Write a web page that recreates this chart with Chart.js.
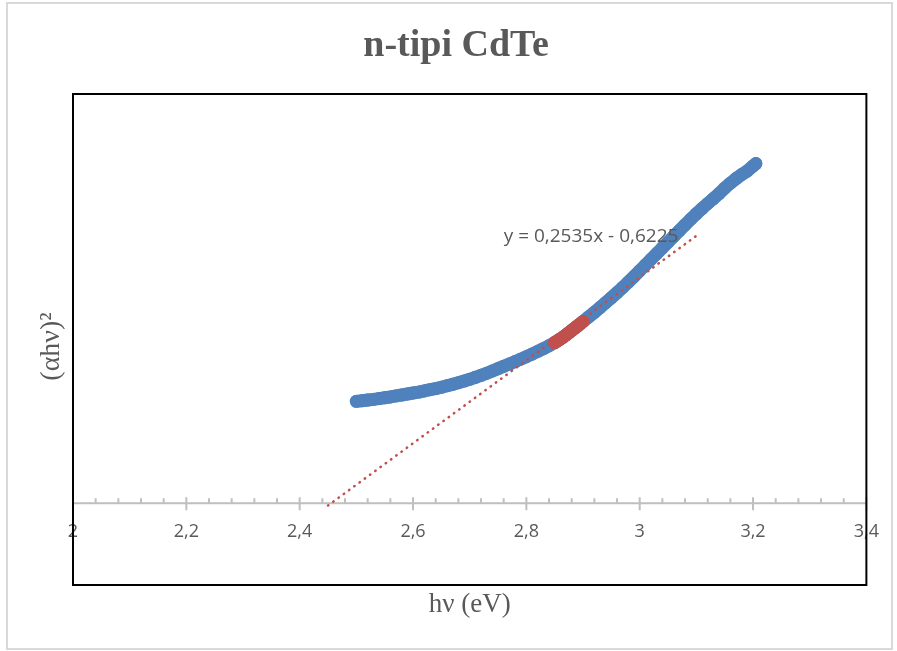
<!DOCTYPE html>
<html>
<head>
<meta charset="utf-8">
<script src="https://cdn.jsdelivr.net/npm/chart.js@4/dist/chart.umd.min.js"></script>
<style>
  body { margin: 0; background: #fff; }
  canvas { display: block; }
</style>
</head>
<body>
<canvas id="chart" width="897" height="651"></canvas>
<script>
// hv (eV) and (alpha h v)^2
const hv = [2.50, 2.51, 2.52, 2.53, 2.54, 2.55, 2.56, 2.57, 2.58, 2.59,
  2.60, 2.61, 2.62, 2.63, 2.64, 2.65, 2.66, 2.67, 2.68, 2.69,
  2.70, 2.71, 2.72, 2.73, 2.74, 2.75, 2.76, 2.77, 2.78, 2.79,
  2.80, 2.81, 2.82, 2.83, 2.84, 2.85, 2.86, 2.87, 2.88, 2.89,
  2.90, 2.91, 2.92, 2.93, 2.94, 2.95, 2.96, 2.97, 2.98, 2.99,
  3.00, 3.01, 3.02, 3.03, 3.04, 3.05, 3.06, 3.07, 3.08, 3.09,
  3.10, 3.11, 3.12, 3.13, 3.14, 3.15, 3.16, 3.17, 3.18, 3.19,
  3.20, 3.205];
const ahv2 = [0.0622, 0.0626, 0.0630, 0.0634, 0.0639, 0.0644, 0.0649, 0.0655, 0.0661, 0.0667,
  0.0673, 0.0679, 0.0686, 0.0693, 0.0700, 0.0708, 0.0717, 0.0726, 0.0736, 0.0746,
  0.0757, 0.0769, 0.0781, 0.0794, 0.0808, 0.0822, 0.0836, 0.0850, 0.0865, 0.0880,
  0.0895, 0.0911, 0.0927, 0.0944, 0.0962, 0.0981, 0.1003, 0.1028, 0.1055, 0.1082,
  0.1110, 0.1138, 0.1166, 0.1195, 0.1225, 0.1255, 0.1286, 0.1318, 0.1351, 0.1385,
  0.1420, 0.1455, 0.1490, 0.1525, 0.1560, 0.1595, 0.1630, 0.1665, 0.1700, 0.1735,
  0.1768, 0.1800, 0.1831, 0.1861, 0.1891, 0.1925, 0.1955, 0.1983, 0.2008, 0.2030,
  0.2060, 0.2075];

// fitted section (red)
const fitHv = [2.85, 2.855, 2.86, 2.865, 2.87, 2.875, 2.88, 2.885, 2.89, 2.895, 2.90];
const fitAhv2 = [0.0981, 0.0992, 0.1003, 0.1015, 0.1028, 0.1041, 0.1055, 0.1068, 0.1082, 0.1096, 0.1110];

// trendline y = 0,2535x - 0,6225, drawn from 2,45 to 3,1
const slope = 0.2535;
const intercept = -0.6225;
const trendFrom = 2.45;
const trendTo = 3.1;

const xTicksMajor = [2, 2.2, 2.4, 2.6, 2.8, 3, 3.2, 3.4];

const gray = '#595959';
const blue = '#4f81bd';
const red = '#c0504d';
const serif = '"Liberation Serif", "Times New Roman", serif';

const toPoints = (xs, ys) => xs.map((x, i) => ({ x: x, y: ys[i] }));
const trend = [trendFrom, trendTo].map(x => ({ x: x, y: slope * x + intercept }));
const comma = v => String(Math.round(v * 10) / 10).replace('.', ',');

const decor = {
  id: 'decor',
  beforeDraw(chart) {
    const ctx = chart.ctx;
    ctx.save();
    ctx.fillStyle = '#fff';
    ctx.fillRect(0, 0, chart.width, chart.height);
    ctx.strokeStyle = '#d9d9d9';
    ctx.lineWidth = 2;
    ctx.strokeRect(7, 3, 885, 646);
    ctx.restore();
  },
  beforeDatasetsDraw(chart) {
    const { ctx, chartArea, scales } = chart;
    const y0 = scales.y.getPixelForValue(0);
    ctx.save();
    ctx.strokeStyle = '#bfbfbf';
    ctx.lineWidth = 2;
    ctx.beginPath();
    ctx.moveTo(chartArea.left, y0);
    ctx.lineTo(chartArea.right, y0);
    for (let i = 0; i < xTicksMajor.length; i++) {
      const px = scales.x.getPixelForValue(xTicksMajor[i]);
      ctx.moveTo(px, y0 - 6);
      ctx.lineTo(px, y0 + 7);
      if (i < xTicksMajor.length - 1) {
        const step = (xTicksMajor[i + 1] - xTicksMajor[i]) / 5;
        for (let k = 1; k < 5; k++) {
          const mx = scales.x.getPixelForValue(xTicksMajor[i] + k * step);
          ctx.moveTo(mx, y0 - 5);
          ctx.lineTo(mx, y0);
        }
      }
    }
    ctx.stroke();
    ctx.restore();
  },
  afterDatasetsDraw(chart) {
    const { ctx, scales } = chart;
    const ex = scales.x.getPixelForValue(trendTo);
    const ey = scales.y.getPixelForValue(slope * trendTo + intercept);
    ctx.save();
    ctx.font = '19px "Open Sans"';
    ctx.fillStyle = gray;
    ctx.textAlign = 'right';
    ctx.textBaseline = 'middle';
    ctx.fillText('y = 0,2535x - 0,6225', ex - 18, ey + 1);
    ctx.restore();
  },
  afterDraw(chart) {
    const { ctx, chartArea } = chart;
    ctx.save();
    ctx.strokeStyle = '#000';
    ctx.lineWidth = 2;
    ctx.strokeRect(chartArea.left, chartArea.top, chartArea.right - chartArea.left, chartArea.bottom - chartArea.top);
    ctx.restore();
  }
};

new Chart(document.getElementById('chart'), {
  type: 'scatter',
  data: {
    datasets: [
      { label: 'trend', type: 'line', data: trend, borderColor: red, borderWidth: 2.5,
        borderDash: [0.5, 6], borderCapStyle: 'round', pointRadius: 0, fill: false, order: 0 },
      { label: 'fit', data: toPoints(fitHv, fitAhv2), backgroundColor: red, borderColor: red,
        showLine: true, borderWidth: 13, borderCapStyle: 'round', borderJoinStyle: 'round',
        pointRadius: 6.5, pointBorderWidth: 0, order: 1 },
      { label: 'data', data: toPoints(hv, ahv2), backgroundColor: blue, borderColor: blue,
        showLine: true, borderWidth: 13, borderCapStyle: 'round', borderJoinStyle: 'round',
        pointRadius: 6.5, pointBorderWidth: 0, order: 2 }
    ]
  },
  options: {
    responsive: false,
    animation: false,
    layout: { padding: { left: 15, right: 0, top: 0, bottom: 0 } },
    plugins: {
      legend: { display: false },
      tooltip: { enabled: false },
      title: {
        display: true,
        text: 'n-tipi CdTe',
        color: gray,
        font: { family: serif, size: 38, weight: 'bold' },
        padding: { top: 23, bottom: 25.4 }
      }
    },
    scales: {
      x: {
        type: 'linear',
        position: { y: 0 },
        min: 2,
        max: 3.4,
        grid: { display: false, drawTicks: false },
        border: { display: false },
        ticks: {
          stepSize: 0.2,
          color: gray,
          padding: 18,
          maxRotation: 0,
          font: { family: '"Open Sans", sans-serif', size: 18 },
          callback: v => comma(v)
        }
      },
      x2: {
        type: 'linear',
        position: 'bottom',
        min: 2,
        max: 3.4,
        grid: { display: false, drawTicks: false },
        border: { display: false },
        ticks: { display: false },
        title: {
          display: true,
          text: 'hν (eV)',
          color: gray,
          font: { family: serif, size: 27 },
          padding: { top: 3.8, bottom: 29.8 }
        }
      },
      y: {
        type: 'linear',
        position: 'left',
        min: -0.05,
        max: 0.25,
        grid: { display: false, drawTicks: false },
        border: { display: false },
        ticks: { display: false },
        title: {
          display: true,
          text: '(αhν)²\u2002',
          color: gray,
          font: { family: serif, size: 28 },
          padding: { top: 20.2, bottom: 4.2 }
        }
      },
      y2: {
        type: 'linear',
        position: 'right',
        min: -0.05,
        max: 0.25,
        grid: { display: false, drawTicks: false },
        border: { display: false },
        ticks: { display: false },
        afterFit: s => { s.width = 28; }
      }
    }
  },
  plugins: [decor]
});
</script>
</body>
</html>
